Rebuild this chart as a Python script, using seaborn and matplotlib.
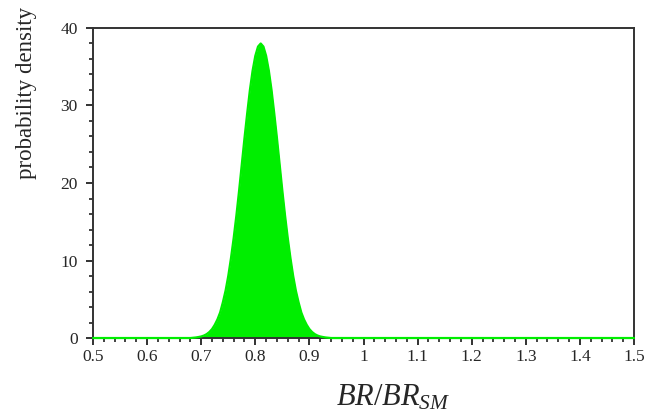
import numpy as np
import pandas as pd
import matplotlib
matplotlib.use("Agg")
import matplotlib.pyplot as plt
import seaborn as sns
from matplotlib.ticker import MultipleLocator

# values
ratio = [0.50, 0.60, 0.68, 0.69, 0.695, 0.70, 0.705, 0.71, 0.715, 0.72, 0.725, 0.73, 0.735,
         0.74, 0.745, 0.75, 0.755, 0.76, 0.765, 0.77, 0.775, 0.78, 0.785, 0.79, 0.795,
         0.80, 0.805, 0.81, 0.815, 0.82, 0.825, 0.83, 0.835, 0.84, 0.845, 0.85, 0.855,
         0.86, 0.865, 0.87, 0.875, 0.88, 0.885, 0.89, 0.895, 0.90, 0.905, 0.91, 0.915,
         0.92, 0.925, 0.93, 0.94, 1.00, 1.20, 1.50]
density = [0.0, 0.0, 0.0, 0.07, 0.13, 0.20, 0.32, 0.50, 0.77, 1.15, 1.7, 2.4, 3.3,
           4.6, 6.1, 8.0, 10.3, 12.9, 15.8, 19.0, 22.4, 25.8, 29.0, 32.0, 34.5,
           36.4, 37.6, 38.0, 37.6, 36.4, 34.5, 32.0, 29.0, 25.8, 22.4, 19.0, 15.8,
           12.9, 10.3, 8.0, 6.1, 4.6, 3.3, 2.4, 1.7, 1.15, 0.77, 0.50, 0.32,
           0.20, 0.13, 0.07, 0.0, 0.0, 0.0, 0.0]
xticks = [0.5, 0.6, 0.7, 0.8, 0.9, 1.0, 1.1, 1.2, 1.3, 1.4, 1.5]
xticklabels = ["0.5", "0.6", "0.7", "0.8", "0.9", "1", "1.1", "1.2", "1.3", "1.4", "1.5"]
yticks = [0, 10, 20, 30, 40]

df = pd.DataFrame({"ratio": ratio, "density": density})

sns.set_style("white")
plt.rcParams["font.family"] = ["Liberation Serif", "DejaVu Serif"]
plt.rcParams["mathtext.fontset"] = "custom"
plt.rcParams["mathtext.it"] = "Liberation Serif:italic"
plt.rcParams["mathtext.rm"] = "Liberation Serif"

fig = plt.figure(figsize=(6.62, 4.17), dpi=100)
ax = fig.add_axes([0.1405, 0.1894, 0.8172, 0.7435])

green = "#00ee00"
ax.fill_between(df["ratio"], df["density"], 0, color=green, linewidth=0, zorder=2)
sns.lineplot(data=df, x="ratio", y="density", ax=ax, color=green, linewidth=1.6,
             zorder=3, clip_on=False)

ax.set_xlim(0.5, 1.5)
ax.set_ylim(0, 40)
ax.set_xticks(xticks)
ax.set_xticklabels(xticklabels)
ax.set_yticks(yticks)
ax.xaxis.set_minor_locator(MultipleLocator(0.02))
ax.yaxis.set_minor_locator(MultipleLocator(2))

ax.tick_params(axis="both", which="major", direction="out", length=5, width=1.3,
               color="#222222", labelsize=12.5, pad=3)
ax.tick_params(axis="y", which="major", pad=6)
ax.tick_params(axis="both", which="minor", direction="out", length=3, width=1.2,
               color="#222222")
ax.tick_params(top=False, right=False, bottom=True, left=True, which="both")

for s in ax.spines.values():
    s.set_color("#333333")
    s.set_linewidth(1.4)

ax.set_ylabel("probability density", fontsize=16.5)
ax.yaxis.set_label_coords(-0.1035, 0.789)
ax.set_xlabel(r"$BR/BR_{SM}$", fontsize=22)
ax.xaxis.set_label_coords(0.555, -0.145)

fig.savefig("out.png", dpi=100)
